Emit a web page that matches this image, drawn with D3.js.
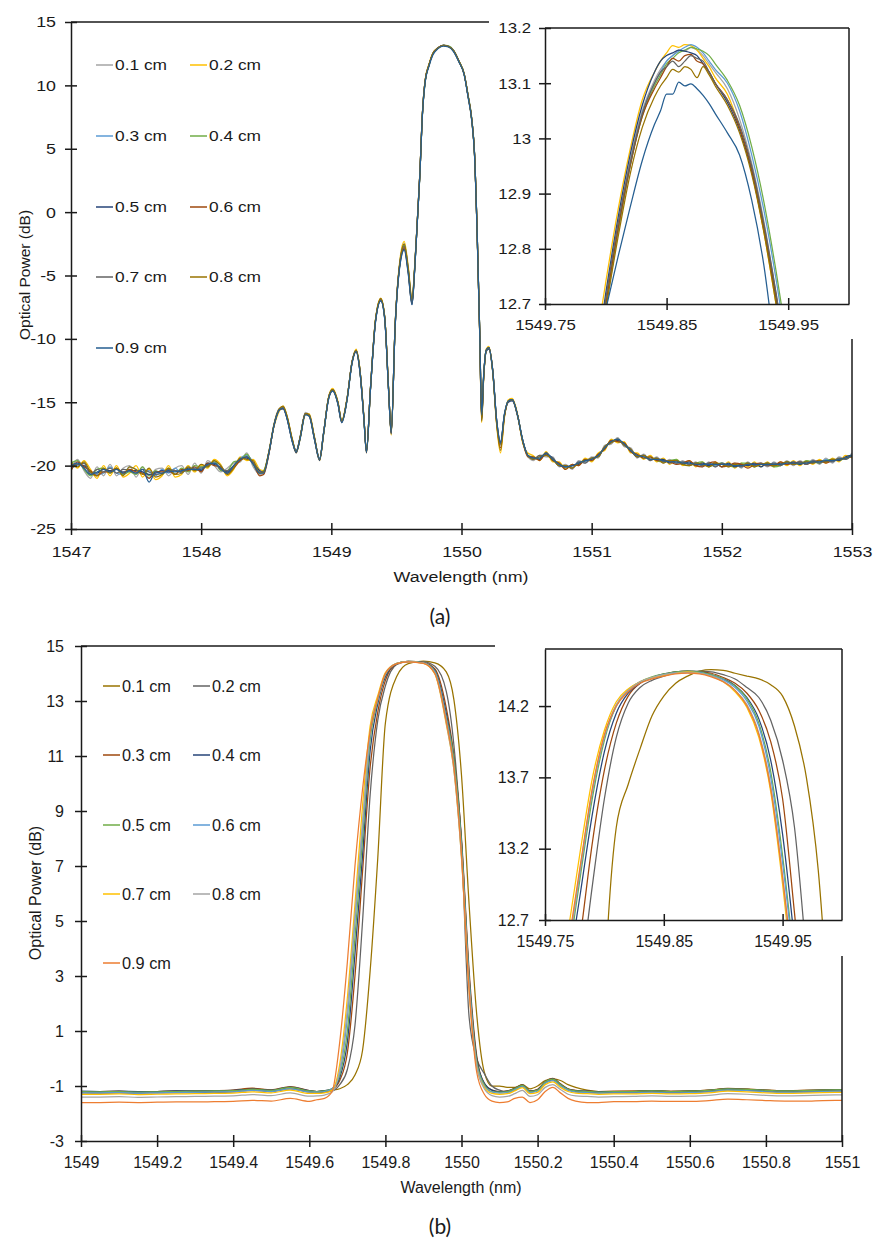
<!DOCTYPE html>
<html lang="en">
<head>
  <meta charset="UTF-8">
  <title>Optical power spectra</title>
  <script src="https://d3js.org/d3.v7.min.js"></script>
</head>

<body>

  <div id="chart"></div>

  <style>
    body { margin: 0; background: #fff; }
  </style>

  <script type="text/javascript">

  // ---------- shared labels / colours ----------
  var labels = ["0.1 cm", "0.2 cm", "0.3 cm", "0.4 cm", "0.5 cm", "0.6 cm", "0.7 cm", "0.8 cm", "0.9 cm"];
  var colorsA = ["#a5a5a5", "#ffc000", "#5b9bd5", "#70ad47", "#264478", "#9e480e", "#636363", "#997300", "#255e91"];
  var colorsB = ["#997300", "#636363", "#9e480e", "#264478", "#70ad47", "#5b9bd5", "#ffc000", "#a5a5a5", "#ed7d31"];

  // ---------- panel (a): main spectrum ----------
  var xTicksA = [1547, 1548, 1549, 1550, 1551, 1552, 1553];
  var yTicksA = [-25, -20, -15, -10, -5, 0, 5, 10, 15];

  var wlA = [1547.00,1547.05,1547.10,1547.15,1547.20,1547.25,1547.30,1547.35,1547.40,1547.45,
    1547.50,1547.55,1547.60,1547.65,1547.70,1547.75,1547.80,1547.85,1547.90,1547.95,
    1548.00,1548.05,1548.10,1548.15,1548.20,1548.25,1548.30,1548.35,1548.40,1548.45,
    1548.48,1548.52,1548.56,1548.60,1548.63,1548.66,1548.70,1548.73,1548.76,1548.80,
    1548.83,1548.87,1548.91,1548.94,1548.98,1549.01,1549.05,1549.08,1549.12,1549.16,
    1549.19,1549.22,1549.25,1549.27,1549.30,1549.34,1549.38,1549.41,1549.44,1549.46,
    1549.49,1549.53,1549.56,1549.59,1549.62,1549.64,1549.66,1549.68,1549.70,1549.72,
    1549.75,1549.78,1549.82,1549.86,1549.90,1549.94,1549.98,1550.02,1550.05,1550.08,
    1550.10,1550.12,1550.14,1550.155,1550.17,1550.19,1550.21,1550.24,1550.27,1550.30,
    1550.33,1550.36,1550.39,1550.43,1550.47,1550.51,
    1550.55,1550.60,1550.65,1550.70,1550.75,1550.80,1550.85,1550.90,1550.95,1551.00,
    1551.05,1551.10,1551.15,1551.20,1551.25,1551.30,1551.35,1551.40,1551.45,1551.50,
    1551.55,1551.60,1551.65,1551.70,1551.75,1551.80,1551.85,1551.90,1551.95,1552.00,
    1552.05,1552.10,1552.15,1552.20,1552.25,1552.30,1552.35,1552.40,1552.45,1552.50,
    1552.55,1552.60,1552.65,1552.70,1552.75,1552.80,1552.85,1552.90,1552.95,1553.00];

  var a01 = [-20.3,-19.5,-20.4,-21.0,-20.1,-20.8,-19.9,-20.8,-20.2,-20.0,-20.9,-20.1,-21.0,-20.3,-20.2,-20.8,-20.2,-20.0,-20.7,-19.8,-20.6,-19.6,-20.0,-20.5,-20.2,-19.8,-19.7,-19.0,-20.1,-20.7,
    -20.6,-19.1,-16.7,-15.5,-15.4,-16.3,-18.1,-18.9,-17.7,-15.8,-16.0,-17.9,-19.5,-17.4,-14.6,-14.0,-15.1,-16.6,-14.8,-11.7,-10.9,-12.6,-16.3,-18.9,-14.0,-8.5,-6.9,-8.3,-14.1,-17.5,-9.0,-3.7,-2.6,-4.4,-7.1,-4.5,-0.8,3.0,7.8,10.3,11.6,12.5,12.96,13.16,13.09,12.72,11.9,10.9,9.2,7.2,4.6,-1.5,-9.5,-16.3,-13.0,-10.9,-10.7,-12.5,-16.6,-18.4,-16.0,-14.9,-14.8,-16.1,-18.0,-19.3,
    -19.6,-19.2,-19.3,-19.3,-20.1,-19.9,-20.3,-19.6,-19.8,-19.3,-19.4,-18.4,-18.3,-17.8,-18.5,-18.6,-19.4,-19.1,-19.6,-19.3,-19.8,-19.5,-19.9,-19.6,-20.0,-19.7,-20.1,-19.7,-20.1,-19.8,-20.1,-19.8,-20.2,-19.7,-20.1,-19.8,-20.1,-19.7,-20.0,-19.6,-20.0,-19.6,-19.9,-19.5,-19.9,-19.4,-19.8,-19.3,-19.5,-19.0];
  var a02 = [-19.6,-20.2,-19.6,-20.3,-21.0,-20.0,-20.8,-20.0,-20.9,-20.6,-20.0,-20.9,-20.3,-21.1,-20.8,-20.0,-20.9,-20.7,-20.0,-20.5,-20.0,-20.2,-19.5,-19.9,-20.8,-20.3,-19.3,-19.6,-19.5,-20.3,
    -20.4,-18.9,-16.9,-15.7,-15.3,-16.1,-17.9,-19.0,-17.9,-16.0,-15.9,-17.7,-19.6,-17.6,-14.5,-13.9,-14.9,-16.4,-14.7,-11.8,-10.8,-12.4,-16.1,-19.0,-14.1,-8.4,-6.8,-8.2,-13.9,-17.6,-8.9,-3.5,-2.3,-4.2,-6.8,-4.3,-0.7,3.1,7.9,10.4,11.7,12.55,12.98,13.17,13.08,12.7,11.9,10.9,9.2,7.1,4.5,-1.6,-9.7,-16.6,-13.2,-10.8,-10.6,-12.6,-16.8,-19.0,-16.2,-14.8,-14.7,-15.9,-18.2,-19.0,
    -19.2,-19.6,-18.9,-19.7,-19.7,-20.3,-19.9,-20.0,-19.4,-19.7,-19.0,-18.8,-17.9,-18.2,-18.1,-19.0,-19.0,-19.5,-19.2,-19.7,-19.4,-19.9,-19.5,-20.0,-19.6,-20.1,-19.7,-20.1,-19.7,-20.1,-19.7,-20.2,-19.8,-20.1,-19.7,-20.1,-19.7,-20.1,-19.7,-20.0,-19.6,-20.0,-19.6,-19.9,-19.5,-19.8,-19.4,-19.7,-19.2,-19.4];
  var a03 = [-20.2,-20.0,-19.8,-20.6,-20.7,-20.6,-20.1,-20.6,-20.7,-20.1,-20.3,-20.6,-20.4,-20.8,-20.3,-20.6,-20.2,-20.6,-20.1,-20.4,-20.1,-20.0,-19.7,-20.0,-20.6,-20.1,-19.4,-19.2,-19.7,-20.4,
    -20.5,-19.0,-16.8,-15.6,-15.4,-16.2,-18.0,-18.8,-17.8,-15.9,-16.0,-17.8,-19.4,-17.5,-14.6,-14.0,-15.0,-16.5,-14.8,-11.8,-10.9,-12.5,-16.2,-18.8,-14.0,-8.5,-6.9,-8.3,-14.0,-17.3,-9.0,-3.7,-2.5,-4.4,-7.0,-4.4,-0.8,3.0,7.8,10.3,11.6,12.5,12.95,13.17,13.1,12.75,11.9,10.9,9.2,7.2,4.6,-1.5,-9.4,-16.1,-13.0,-10.9,-10.7,-12.5,-16.4,-18.2,-16.0,-14.9,-14.8,-16.0,-18.0,-19.2,
    -19.5,-19.3,-19.2,-19.4,-20.0,-20.0,-20.2,-19.7,-19.7,-19.4,-19.3,-18.5,-18.2,-17.9,-18.4,-18.7,-19.3,-19.2,-19.5,-19.4,-19.7,-19.6,-19.8,-19.7,-19.9,-19.8,-20.0,-19.8,-20.0,-19.8,-20.0,-19.9,-20.1,-19.8,-20.0,-19.8,-20.0,-19.8,-20.0,-19.7,-19.9,-19.7,-19.9,-19.6,-19.8,-19.5,-19.7,-19.4,-19.5,-19.1];
  var a04 = [-19.8,-19.6,-20.3,-20.8,-20.3,-20.2,-20.6,-20.2,-20.7,-20.5,-20.7,-20.1,-20.8,-20.4,-20.7,-20.2,-20.7,-20.2,-20.5,-20.0,-20.1,-20.1,-19.6,-20.4,-20.4,-19.7,-19.6,-19.1,-19.9,-20.6,
    -20.4,-19.0,-16.8,-15.6,-15.4,-16.2,-18.0,-18.9,-17.8,-15.9,-16.0,-17.8,-19.5,-17.5,-14.6,-14.0,-15.0,-16.5,-14.8,-11.8,-10.9,-12.5,-16.2,-18.9,-14.0,-8.5,-6.9,-8.3,-14.0,-17.4,-9.0,-3.8,-2.6,-4.5,-7.2,-4.5,-0.9,2.9,7.7,10.2,11.6,12.5,12.95,13.16,13.11,12.76,11.95,10.95,9.3,7.3,4.7,-1.4,-9.4,-16.2,-13.0,-10.9,-10.7,-12.5,-16.5,-18.3,-16.0,-14.9,-14.8,-16.0,-18.0,-19.2,
    -19.3,-19.5,-19.0,-19.6,-19.8,-20.2,-20.0,-19.9,-19.5,-19.6,-19.1,-18.7,-18.0,-18.1,-18.2,-18.9,-19.1,-19.4,-19.3,-19.6,-19.7,-19.6,-19.5,-19.9,-20.0,-19.8,-19.7,-20.1,-19.9,-19.8,-20.0,-20.1,-19.8,-19.8,-20.1,-19.9,-19.8,-20.1,-20.0,-19.7,-19.8,-19.9,-19.6,-19.7,-19.8,-19.6,-19.5,-19.6,-19.4,-19.2];
  var a05 = [-20.1,-19.9,-20.0,-20.5,-20.6,-20.3,-20.4,-20.3,-20.5,-20.4,-20.4,-20.5,-20.7,-20.6,-20.4,-20.5,-20.4,-20.5,-20.2,-20.3,-20.4,-19.8,-19.9,-20.2,-20.5,-20.0,-19.5,-19.4,-19.8,-20.4,
    -20.5,-19.0,-16.8,-15.6,-15.5,-16.3,-18.1,-19.0,-17.8,-15.9,-16.1,-17.9,-19.6,-17.5,-14.7,-14.1,-15.1,-16.6,-14.8,-11.8,-11.0,-12.6,-16.3,-19.0,-14.1,-8.6,-7.0,-8.4,-14.1,-17.5,-9.1,-3.9,-2.9,-4.7,-7.3,-4.6,-0.8,3.0,7.8,10.3,11.6,12.5,12.97,13.16,13.07,12.71,11.9,10.9,9.2,7.2,4.6,-1.5,-9.6,-16.4,-13.1,-11.0,-10.8,-12.6,-16.4,-18.1,-16.0,-15.0,-14.9,-16.0,-18.0,-19.2,
    -19.4,-19.5,-19.1,-19.4,-20.0,-20.1,-20.0,-19.9,-19.6,-19.5,-19.2,-18.6,-18.1,-18.0,-18.3,-18.8,-19.3,-19.2,-19.5,-19.5,-19.5,-19.8,-19.6,-19.9,-19.7,-20.0,-19.8,-20.0,-19.8,-20.1,-19.8,-20.1,-19.9,-20.0,-19.8,-20.1,-19.8,-20.0,-19.8,-19.9,-19.7,-19.9,-19.7,-19.8,-19.6,-19.7,-19.5,-19.6,-19.3,-19.2];
  var a06 = [-20.4,-19.7,-20.1,-20.4,-20.8,-20.5,-20.5,-20.2,-20.6,-20.3,-20.5,-20.6,-21.0,-20.5,-20.5,-20.4,-20.7,-20.3,-20.4,-20.1,-20.5,-19.8,-20.0,-20.1,-20.6,-20.2,-19.6,-19.3,-19.8,-20.8,
    -20.7,-19.1,-16.8,-15.6,-15.5,-16.2,-18.0,-18.9,-17.8,-15.9,-16.0,-17.8,-19.5,-17.5,-14.6,-14.0,-15.0,-16.5,-14.8,-11.8,-10.9,-12.5,-16.2,-18.9,-14.0,-8.5,-6.9,-8.3,-14.0,-17.4,-9.0,-3.8,-2.8,-4.6,-7.2,-4.5,-0.8,3.0,7.8,10.3,11.6,12.5,12.95,13.15,13.07,12.72,11.9,10.9,9.2,7.2,4.6,-1.5,-9.5,-16.2,-13.0,-10.9,-10.7,-12.5,-16.6,-18.6,-16.1,-14.9,-14.8,-16.0,-18.1,-19.3,
    -19.3,-19.6,-19.0,-19.6,-19.8,-20.3,-19.9,-20.0,-19.5,-19.6,-19.1,-18.7,-18.0,-18.1,-18.2,-18.9,-19.1,-19.4,-19.3,-19.6,-19.6,-19.7,-19.9,-19.8,-19.6,-20.0,-20.1,-19.8,-19.7,-20.1,-20.0,-19.8,-19.9,-20.2,-19.9,-19.8,-20.0,-20.0,-19.7,-19.9,-19.8,-19.7,-19.9,-19.7,-19.6,-19.8,-19.6,-19.5,-19.4,-19.3];
  var a07 = [-19.9,-19.9,-19.8,-20.7,-20.3,-20.5,-20.2,-20.6,-20.3,-20.4,-20.6,-20.3,-20.5,-20.7,-20.6,-20.3,-20.4,-20.5,-20.3,-20.2,-20.2,-20.0,-19.8,-20.3,-20.4,-20.0,-19.5,-19.3,-19.8,-20.5,
    -20.5,-19.0,-16.8,-15.6,-15.4,-16.2,-18.0,-18.9,-17.8,-15.9,-16.0,-17.8,-19.5,-17.5,-14.6,-14.0,-15.0,-16.5,-14.8,-11.8,-10.9,-12.5,-16.2,-18.9,-14.0,-8.5,-6.9,-8.3,-14.0,-17.4,-9.0,-3.8,-2.7,-4.5,-7.1,-4.5,-0.8,3.0,7.8,10.3,11.6,12.5,12.96,13.15,13.07,12.72,11.9,10.9,9.2,7.2,4.6,-1.5,-9.5,-16.3,-13.0,-10.9,-10.7,-12.5,-16.5,-18.3,-16.0,-14.9,-14.8,-16.0,-18.0,-19.2,
    -19.5,-19.2,-19.2,-19.4,-20.0,-20.0,-20.2,-19.7,-19.8,-19.4,-19.3,-18.5,-18.2,-17.9,-18.4,-18.7,-19.3,-19.2,-19.6,-19.4,-19.7,-19.6,-19.8,-19.7,-19.9,-19.8,-20.0,-19.8,-20.1,-19.8,-20.0,-19.9,-20.1,-19.8,-20.0,-19.9,-20.0,-19.8,-20.0,-19.7,-19.9,-19.7,-19.9,-19.6,-19.8,-19.6,-19.7,-19.4,-19.5,-19.2];
  var a08 = [-19.8,-20.1,-19.7,-20.5,-20.8,-20.2,-20.6,-20.2,-20.8,-20.1,-20.3,-20.7,-20.2,-20.9,-20.7,-20.2,-20.7,-20.6,-20.1,-20.4,-19.9,-20.1,-19.6,-20.0,-20.7,-20.2,-19.4,-19.5,-19.6,-20.6,
    -20.5,-18.9,-16.7,-15.5,-15.3,-16.1,-17.9,-18.9,-17.8,-15.9,-16.0,-17.8,-19.5,-17.5,-14.6,-14.0,-15.0,-16.5,-14.8,-11.8,-10.9,-12.5,-16.2,-18.8,-14.0,-8.4,-6.8,-8.3,-14.0,-17.3,-9.0,-3.7,-2.5,-4.4,-6.9,-4.4,-0.8,3.0,7.8,10.3,11.6,12.5,12.93,13.13,13.06,12.7,11.9,10.9,9.2,7.2,4.6,-1.5,-9.6,-16.5,-13.1,-10.9,-10.7,-12.6,-16.7,-18.8,-16.1,-14.9,-14.8,-16.0,-18.1,-19.2,
    -19.5,-19.3,-19.2,-19.5,-20.0,-20.0,-20.2,-19.8,-19.6,-19.4,-19.3,-18.5,-18.2,-17.9,-18.4,-18.7,-19.3,-19.2,-19.5,-19.4,-19.8,-19.6,-19.6,-19.9,-20.0,-19.8,-19.9,-20.1,-19.8,-19.9,-20.1,-19.9,-20.0,-19.8,-20.1,-19.9,-19.8,-20.0,-19.9,-19.7,-19.9,-19.8,-19.7,-19.8,-19.6,-19.7,-19.5,-19.5,-19.4,-19.2];
  var a09 = [-20.0,-19.8,-20.2,-20.7,-20.5,-20.3,-20.5,-20.3,-20.6,-20.4,-20.6,-20.3,-21.3,-20.5,-20.6,-20.4,-20.5,-20.4,-20.3,-20.3,-20.3,-19.9,-19.8,-20.2,-20.6,-20.0,-19.5,-19.3,-19.9,-20.6,
    -20.6,-19.0,-16.8,-15.6,-15.5,-16.3,-18.1,-18.9,-17.9,-16.0,-16.1,-17.9,-19.5,-17.5,-14.7,-14.1,-15.1,-16.6,-14.9,-11.9,-11.0,-12.6,-16.3,-18.9,-14.1,-8.6,-7.0,-8.4,-14.1,-17.4,-9.1,-4.0,-3.0,-4.8,-7.3,-4.6,-0.9,2.9,7.7,10.2,11.5,12.4,12.9,13.1,13.03,12.65,11.85,10.85,9.1,7.1,4.5,-1.6,-9.5,-16.0,-12.9,-10.9,-10.7,-12.5,-16.4,-18.2,-15.9,-14.9,-14.8,-16.0,-18.0,-19.2,
    -19.4,-19.4,-19.0,-19.5,-19.9,-20.1,-20.0,-19.8,-19.6,-19.5,-19.2,-18.6,-18.1,-17.9,-18.3,-18.8,-19.2,-19.3,-19.5,-19.5,-19.6,-19.7,-19.7,-19.8,-19.8,-19.9,-19.9,-19.9,-19.9,-19.9,-19.9,-20.0,-20.0,-19.9,-19.9,-19.9,-19.9,-19.9,-19.9,-19.8,-19.8,-19.8,-19.8,-19.7,-19.7,-19.6,-19.6,-19.5,-19.4,-19.2];

  // ---------- panel (a): inset around the peak ----------
  var insetXTicks = [1549.75, 1549.85, 1549.95];
  var insetYTicksA = [12.7, 12.8, 12.9, 13, 13.1, 13.2];
  var insetWlA = [1549.79,1549.80,1549.81,1549.82,1549.83,1549.84,1549.845,1549.85,1549.855,1549.86,1549.865,
    1549.87,1549.875,1549.88,1549.885,1549.89,1549.90,1549.91,1549.92,1549.93,1549.94,1549.95];
  var ia01 = [12.55,12.70,12.84,12.96,13.05,13.105,13.125,13.14,13.15,13.16,13.158,13.165,13.16,13.15,13.135,13.12,13.09,13.035,12.955,12.85,12.72,12.58];
  var ia02 = [12.6,12.74,12.87,12.98,13.07,13.12,13.14,13.155,13.168,13.165,13.17,13.168,13.16,13.145,13.13,13.11,13.08,13.02,12.94,12.83,12.7,12.56];
  var ia03 = [12.55,12.69,12.83,12.95,13.045,13.1,13.12,13.14,13.15,13.158,13.165,13.17,13.165,13.155,13.14,13.125,13.1,13.05,12.97,12.87,12.745,12.6];
  var ia04 = [12.55,12.7,12.83,12.95,13.04,13.095,13.115,13.135,13.145,13.155,13.16,13.165,13.162,13.158,13.15,13.135,13.105,13.06,12.985,12.885,12.76,12.62];
  var ia05 = [12.57,12.72,12.855,12.97,13.06,13.12,13.14,13.15,13.155,13.16,13.158,13.155,13.15,13.135,13.12,13.1,13.065,13.015,12.94,12.835,12.71,12.57];
  var ia06 = [12.55,12.7,12.835,12.95,13.04,13.09,13.11,13.13,13.145,13.14,13.15,13.152,13.14,13.135,13.12,13.1,13.07,13.02,12.945,12.84,12.715,12.57];
  var ia07 = [12.56,12.71,12.845,12.955,13.045,13.1,13.12,13.13,13.14,13.13,13.14,13.15,13.145,13.14,13.12,13.1,13.07,13.025,12.95,12.845,12.72,12.58];
  var ia08 = [12.55,12.69,12.82,12.935,13.02,13.075,13.095,13.11,13.125,13.12,13.13,13.125,13.11,13.13,13.115,13.095,13.06,13.01,12.935,12.83,12.7,12.56];
  var ia09 = [12.59,12.69,12.785,12.875,12.96,13.025,13.05,13.08,13.08,13.102,13.095,13.099,13.09,13.078,13.063,13.045,13.01,12.97,12.888,12.77,12.6,12.45];

  // ---------- panel (b): main spectrum ----------
  var xTicksB = [1549, 1549.2, 1549.4, 1549.6, 1549.8, 1550, 1550.2, 1550.4, 1550.6, 1550.8, 1551];
  var yTicksB = [-3, -1, 1, 3, 5, 7, 9, 11, 13, 15];
  var wlB = [1549.00,1549.05,1549.10,1549.15,1549.20,1549.25,1549.30,1549.35,1549.40,1549.45,1549.50,1549.55,1549.60,
    1549.62,1549.64,1549.66,1549.68,1549.70,1549.72,1549.74,1549.76,1549.78,1549.80,
    1549.83,1549.86,1549.90,1549.93,1549.96,
    1549.98,1550.00,1550.02,1550.04,1550.06,1550.08,
    1550.10,1550.12,1550.14,1550.16,1550.18,1550.20,1550.22,1550.24,1550.26,1550.28,1550.30,1550.33,1550.36,1550.40,
    1550.45,1550.50,1550.55,1550.60,1550.65,1550.70,1550.75,1550.80,1550.85,1550.90,1550.95,1551.00];

  var b01 = [-1.2,-1.21,-1.2,-1.21,-1.2,-1.19,-1.2,-1.18,-1.16,-1.1,-1.15,-1.06,-1.18,
    -1.2,-1.18,-1.15,-1.1,-0.95,-0.6,0.3,3.2,7.3,12.2, 13.9,14.36,14.45,14.39,14.06, 13.05,10.3,5.6,1.6,-0.5,-1.0,
    -1.0,-1.05,-1.05,-0.95,-1.1,-1.0,-0.8,-0.75,-0.8,-0.95,-1.05,-1.15,-1.2,-1.2,
    -1.19,-1.17,-1.2,-1.18,-1.15,-1.1,-1.11,-1.15,-1.17,-1.16,-1.15,-1.13];
  var b02 = [-1.25,-1.26,-1.25,-1.26,-1.25,-1.24,-1.24,-1.23,-1.21,-1.16,-1.2,-1.1,-1.22,
    -1.25,-1.22,-1.18,-0.95,-0.4,1.2,5.0,9.6,12.3,13.55, 14.33,14.43,14.42,14.26,13.35, 11.4,7.8,1.5,0.0,-0.55,-1.0,
    -1.15,-1.22,-1.15,-1.0,-1.2,-1.15,-0.9,-0.78,-0.95,-1.12,-1.2,-1.23,-1.25,-1.24,
    -1.24,-1.22,-1.24,-1.23,-1.2,-1.15,-1.16,-1.2,-1.22,-1.21,-1.2,-1.19];
  var b03 = [-1.2,-1.2,-1.19,-1.21,-1.2,-1.19,-1.18,-1.17,-1.15,-1.08,-1.14,-1.02,-1.17,
    -1.2,-1.18,-1.12,-0.8,0.2,3.0,6.8,10.6,12.6,13.75, 14.36,14.44,14.4,14.17,12.75, 11.0,8.0,3.2,0.1,-0.9,-1.15,
    -1.2,-1.18,-1.08,-0.96,-1.18,-1.12,-0.84,-0.72,-0.92,-1.1,-1.16,-1.19,-1.2,-1.19,
    -1.19,-1.17,-1.19,-1.18,-1.15,-1.09,-1.11,-1.15,-1.17,-1.16,-1.14,-1.13];
  var b04 = [-1.19,-1.2,-1.19,-1.2,-1.2,-1.18,-1.18,-1.17,-1.16,-1.11,-1.15,-1.04,-1.17,
    -1.2,-1.17,-1.1,-0.7,0.6,3.8,7.4,11.2,12.9,13.88, 14.36,14.44,14.39,14.11,12.55, 10.9,7.9,3.0,0.0,-0.9,-1.15,
    -1.21,-1.19,-1.09,-0.97,-1.19,-1.14,-0.85,-0.74,-0.94,-1.11,-1.17,-1.19,-1.21,-1.2,
    -1.2,-1.18,-1.2,-1.19,-1.16,-1.1,-1.12,-1.16,-1.18,-1.17,-1.15,-1.14];
  var b05 = [-1.2,-1.21,-1.2,-1.22,-1.21,-1.2,-1.19,-1.18,-1.17,-1.12,-1.16,-1.05,-1.18,
    -1.2,-1.18,-1.1,-0.6,1.0,4.4,8.0,11.6,13.02,13.96, 14.37,14.44,14.39,14.08,12.4, 10.9,7.8,2.9,-0.1,-0.95,-1.2,
    -1.22,-1.2,-1.1,-0.98,-1.2,-1.15,-0.85,-0.75,-0.95,-1.12,-1.18,-1.2,-1.22,-1.2,
    -1.2,-1.18,-1.2,-1.19,-1.16,-1.1,-1.12,-1.16,-1.18,-1.17,-1.15,-1.14];
  var b06 = [-1.25,-1.25,-1.24,-1.26,-1.25,-1.24,-1.23,-1.22,-1.21,-1.16,-1.2,-1.1,-1.22,
    -1.22,-1.2,-1.1,-0.5,1.5,5.0,8.4,11.8,13.06,13.98, 14.37,14.435,14.385,14.06,12.35, 10.7,7.6,2.8,-0.2,-1.0,-1.22,
    -1.26,-1.24,-1.14,-1.02,-1.24,-1.19,-0.9,-0.8,-1.0,-1.16,-1.22,-1.24,-1.26,-1.25,
    -1.25,-1.23,-1.25,-1.24,-1.21,-1.15,-1.17,-1.21,-1.23,-1.22,-1.2,-1.19];
  var b07 = [-1.3,-1.3,-1.29,-1.31,-1.3,-1.29,-1.28,-1.27,-1.26,-1.21,-1.25,-1.15,-1.27,
    -1.27,-1.25,-1.15,-0.2,2.2,5.6,9.2,12.1,13.2,14.03, 14.37,14.43,14.37,13.98,12.15, 10.5,7.3,2.5,-0.3,-1.05,-1.27,
    -1.3,-1.28,-1.18,-1.06,-1.28,-1.23,-0.95,-0.85,-1.05,-1.2,-1.26,-1.28,-1.3,-1.29,
    -1.29,-1.27,-1.29,-1.28,-1.25,-1.19,-1.21,-1.25,-1.27,-1.26,-1.24,-1.23];
  var b08 = [-1.4,-1.4,-1.39,-1.41,-1.4,-1.39,-1.38,-1.37,-1.36,-1.31,-1.35,-1.25,-1.37,
    -1.36,-1.33,-1.22,-0.4,1.8,5.2,8.6,11.9,13.08,13.99, 14.37,14.43,14.375,14.01,12.2, 10.5,7.3,2.6,-0.3,-1.1,-1.35,
    -1.4,-1.38,-1.28,-1.16,-1.38,-1.32,-1.05,-0.95,-1.13,-1.3,-1.36,-1.38,-1.4,-1.39,
    -1.38,-1.36,-1.38,-1.37,-1.34,-1.28,-1.3,-1.34,-1.36,-1.35,-1.33,-1.32];
  var b09 = [-1.6,-1.6,-1.59,-1.6,-1.59,-1.58,-1.58,-1.57,-1.56,-1.52,-1.55,-1.45,-1.56,
    -1.5,-1.45,-1.2,0.6,3.5,7.0,9.8,11.9,13.1,14.0, 14.36,14.425,14.37,14.0,12.25, 10.6,7.4,2.5,-0.5,-1.3,-1.55,
    -1.6,-1.58,-1.45,-1.4,-1.6,-1.5,-1.2,-1.05,-1.25,-1.45,-1.55,-1.6,-1.6,-1.57,
    -1.57,-1.55,-1.56,-1.56,-1.53,-1.48,-1.5,-1.53,-1.55,-1.55,-1.53,-1.52];

  // ---------- panel (b): inset around the peak ----------
  var insetYTicksB = [12.7, 13.2, 13.7, 14.2];
  var insetWlB = [1549.76,1549.77,1549.78,1549.79,1549.80,1549.81,1549.82,1549.83,1549.84,1549.85,1549.86,1549.87,
    1549.88,1549.89,1549.90,1549.91,1549.92,1549.93,1549.94,1549.95,1549.96,1549.97,1549.98,1549.99];
  var ib01 = [2.5,4.5,7.0,9.8,12.2,13.35,13.65,13.9,14.13,14.27,14.36,14.41,14.445,14.455,14.45,14.43,14.41,14.39,14.35,14.27,14.06,13.7,13.05,11.9];
  var ib02 = [11.0,11.8,12.3,12.95,13.55,13.98,14.22,14.33,14.38,14.41,14.43,14.44,14.445,14.44,14.42,14.39,14.33,14.26,14.1,13.82,13.35,12.45,11.5,10.5];
  var ib03 = [11.3,12.0,12.6,13.25,13.75,14.08,14.27,14.36,14.4,14.42,14.44,14.445,14.44,14.43,14.4,14.36,14.29,14.17,13.95,13.55,12.75,11.9,11.0,10.0];
  var ib04 = [11.7,12.35,12.9,13.45,13.88,14.15,14.29,14.36,14.4,14.425,14.44,14.445,14.44,14.42,14.39,14.345,14.26,14.11,13.82,13.3,12.55,11.7,10.9,10.0];
  var ib05 = [11.9,12.45,13.02,13.56,13.96,14.2,14.31,14.37,14.405,14.425,14.44,14.445,14.44,14.42,14.39,14.34,14.25,14.08,13.74,13.15,12.4,11.6,10.9,9.9];
  var ib06 = [11.9,12.5,13.06,13.6,13.98,14.2,14.31,14.37,14.4,14.42,14.435,14.44,14.435,14.415,14.385,14.33,14.235,14.06,13.7,13.1,12.35,11.5,10.7,9.8];
  var ib07 = [12.1,12.65,13.2,13.7,14.03,14.23,14.32,14.37,14.4,14.415,14.43,14.44,14.43,14.41,14.37,14.3,14.19,13.98,13.6,12.95,12.15,11.3,10.5,9.6];
  var ib08 = [11.9,12.5,13.08,13.62,13.99,14.21,14.31,14.37,14.4,14.42,14.43,14.435,14.43,14.41,14.375,14.31,14.21,14.01,13.64,13.0,12.2,11.35,10.5,9.6];
  var ib09 = [11.95,12.55,13.1,13.63,14.0,14.2,14.3,14.36,14.39,14.41,14.425,14.43,14.425,14.405,14.37,14.31,14.2,14.0,13.62,13.0,12.25,11.4,10.6,9.7];

  // ---------- drawing ----------
  var w = 874;
  var h = 1239;
  var ink = "#1a1a1a";
  var font = "'Liberation Sans', Arial, sans-serif";

  var svg = d3.select('#chart')
    .append('svg')
    .attr('width', w)
    .attr('height', h)
    .style('background', '#fff');

  var defs = svg.append('defs');

  function plot(o) {
    var x = d3.scaleLinear().domain(o.xDom).range([o.l, o.r]);
    var y = d3.scaleLinear().domain(o.yDom).range([o.b, o.t]);
    var g = svg.append('g');

    defs.append('clipPath').attr('id', o.id)
      .append('rect')
      .attr('x', o.l).attr('y', o.t)
      .attr('width', o.r - o.l).attr('height', o.b - o.t);

    var line = d3.line()
      .defined(d => d[0] != null && d[1] != null)
      .curve(d3.curveMonotoneX)
      .x(d => x(d[0]))
      .y(d => y(d[1]));

    g.append('g')
      .attr('clip-path', 'url(#' + o.id + ')')
      .selectAll('path')
      .data(o.series)
      .enter()
      .append('path')
      .attr('fill', 'none')
      .attr('stroke', (d, i) => o.colors[i])
      .attr('stroke-width', 1.25)
      .attr('stroke-linejoin', 'round')
      .attr('d', d => line(d3.zip(o.wl, d)));

    // top and right frame
    g.append('line').attr('x1', o.l).attr('x2', o.r).attr('y1', o.t).attr('y2', o.t)
      .attr('stroke', ink).attr('stroke-width', 1.5);
    g.append('line').attr('x1', o.r).attr('x2', o.r).attr('y1', o.t).attr('y2', o.b)
      .attr('stroke', ink).attr('stroke-width', 1.5);

    var xa = g.append('g')
      .attr('transform', 'translate(0,' + o.b + ')')
      .call(d3.axisBottom(x).tickValues(o.xTicks).tickFormat(o.fmt)
        .tickSizeInner(6).tickSizeOuter(0).tickPadding(o.xPad));
    xa.selectAll('.tick line').attr('y1', -6);

    var ya = g.append('g')
      .attr('transform', 'translate(' + o.l + ',0)')
      .call(d3.axisLeft(y).tickValues(o.yTicks).tickFormat(d => String(d))
        .tickSizeInner(6).tickSizeOuter(0).tickPadding(o.yPad));
    ya.selectAll('.tick line').attr('x1', 6);

    [xa, ya].forEach(a => {
      a.attr('font-family', font).attr('font-size', o.fs).attr('color', ink);
      a.select('.domain').attr('stroke-width', 1.5);
      a.selectAll('.tick line').attr('stroke-width', 1.5);
    });
    if (o.sx !== 1) {
      xa.selectAll('text').attr('transform', 'scale(' + o.sx + ',1)');
      ya.selectAll('text').attr('transform', 'scale(' + o.sx + ',1)')
        .attr('x', -(6 + o.yPad) / o.sx);
    }
    return { x: x, y: y, g: g };
  }

  function legend(o) {
    var items = svg.append('g').selectAll('g')
      .data(labels)
      .enter()
      .append('g')
      .attr('transform', (d, i) => 'translate(' + o.cols[i % 2] + ',' + o.rows[Math.floor(i / 2)] + ')');
    items.append('line')
      .attr('x1', 0).attr('x2', 17)
      .attr('stroke', (d, i) => o.colors[i])
      .attr('stroke-width', 1.5);
    items.append('text')
      .attr('transform', 'translate(19,0) scale(' + o.sx + ',1)')
      .attr('dy', '0.35em')
      .attr('font-family', font)
      .attr('font-size', o.fs)
      .attr('fill', ink)
      .text(d => d);
  }

  function text(x, y, str, fs, sx, rot, fam) {
    svg.append('text')
      .attr('transform', 'translate(' + x + ',' + y + ')' + (rot ? ' rotate(-90)' : '') + ' scale(' + sx + ',1)')
      .attr('text-anchor', 'middle')
      .attr('dy', '0.35em')
      .attr('font-family', fam || font)
      .attr('font-size', fs)
      .attr('fill', ink)
      .text(str);
  }

  var intFmt = d => String(d);
  var decFmt = d => String(+d.toFixed(2));

  // panel (a)
  plot({ id: 'clipA', l: 71, r: 852, t: 22, b: 529,
    xDom: [1547, 1553], yDom: [-25, 15], xTicks: xTicksA, yTicks: yTicksA,
    fmt: intFmt, wl: wlA, series: [a01, a02, a03, a04, a05, a06, a07, a08, a09],
    colors: colorsA, fs: 15.5, sx: 1.15, xPad: 11, yPad: 9 });

  svg.append('rect').attr('x', 489).attr('y', 0).attr('width', 385).attr('height', 339).attr('fill', '#fff');

  plot({ id: 'clipAi', l: 545, r: 849, t: 28, b: 304,
    xDom: [1549.75, 1550.0], yDom: [12.7, 13.2], xTicks: insetXTicks, yTicks: insetYTicksA,
    fmt: decFmt, wl: insetWlA, series: [ia01, ia02, ia03, ia04, ia05, ia06, ia07, ia08, ia09],
    colors: colorsA, fs: 15, sx: 1.12, xPad: 9, yPad: 8 });

  legend({ rows: [65, 136, 207, 277, 348], cols: [96, 190], colors: colorsA, fs: 15.5, sx: 1.12 });

  text(461, 577, 'Wavelength (nm)', 15.5, 1.15, false);
  text(25, 275, 'Optical Power (dB)', 15.5, 1, true);
  text(440, 617, '(a)', 21, 1, false, "Lato, 'Open Sans', sans-serif");

  // panel (b)
  plot({ id: 'clipB', l: 81, r: 842, t: 646, b: 1141,
    xDom: [1549, 1551], yDom: [-3, 15], xTicks: xTicksB, yTicks: yTicksB,
    fmt: decFmt, wl: wlB, series: [b01, b02, b03, b04, b05, b06, b07, b08, b09],
    colors: colorsB, fs: 16, sx: 1, xPad: 10, yPad: 11 });

  svg.append('rect').attr('x', 495).attr('y', 630).attr('width', 379).attr('height', 326).attr('fill', '#fff');

  plot({ id: 'clipBi', l: 545, r: 842, t: 649, b: 920,
    xDom: [1549.75, 1550.0], yDom: [12.7, 14.6], xTicks: insetXTicks, yTicks: insetYTicksB,
    fmt: decFmt, wl: insetWlB, series: [ib01, ib02, ib03, ib04, ib05, ib06, ib07, ib08, ib09],
    colors: colorsB, fs: 16, sx: 1, xPad: 10, yPad: 10 });

  legend({ rows: [686, 755, 825, 894, 963], cols: [103, 193], colors: colorsB, fs: 16, sx: 1.02 });

  text(461, 1187, 'Wavelength (nm)', 16, 1, false);
  text(35, 893, 'Optical Power (dB)', 16, 1, true);
  text(440, 1227, '(b)', 21, 1, false, "Lato, 'Open Sans', sans-serif");

  </script>
</body>
</html>
